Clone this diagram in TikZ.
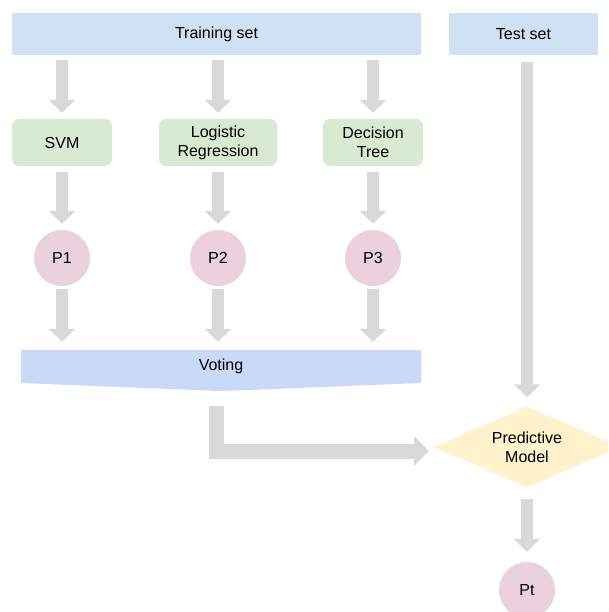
\documentclass[tikz,border=0pt]{standalone}
\usepackage{fontspec}
\setmainfont{Liberation Sans}
\usetikzlibrary{arrows.meta,shapes.geometric}
\definecolor{trainblue}{HTML}{CFE2F3}
\definecolor{modelgreen}{HTML}{D9EAD3}
\definecolor{predpink}{HTML}{EAD1DC}
\definecolor{voteblue}{HTML}{C9DAF8}
\definecolor{diamondyellow}{HTML}{FFF2CC}
\definecolor{arrowgray}{HTML}{D9D9D9}
\begin{document}
\begin{tikzpicture}[x=1pt,y=-1pt,
  font=\fontsize{16}{19}\selectfont,
  setbox/.style={fill=trainblue, minimum height=42pt, inner sep=0pt},
  modelbox/.style={fill=modelgreen, rounded corners=7pt, minimum width=100pt, minimum height=47pt, inner sep=0pt, align=center},
  predcirc/.style={circle, fill=predpink, minimum size=56pt, inner sep=0pt},
  blockarrow/.style={draw=arrowgray, line width=12pt, -{Triangle[width=26pt,length=13pt]}},
  bigarrow/.style={draw=arrowgray, line width=15pt, -{Triangle[width=29pt,length=15pt]}},
  ]
\clip (0,0) rectangle (608,612);
\fill[white] (0,0) rectangle (608,612);
% top boxes
\node[setbox, minimum width=409pt] (train) at (216.5,34) {Training set};
\node[setbox, minimum width=149pt] (test) at (523.5,34) {Test set};
% models
\node[modelbox] (svm) at (62,142.5) {SVM};
\node[modelbox, minimum width=118pt] (lr) at (218,142.5) {Logistic\\Regression};
\node[modelbox] (dt) at (373,142.5) {Decision\\Tree};
% predictions
\node[predcirc] (p1) at (62,258) {P1};
\node[predcirc] (p2) at (218,258) {P2};
\node[predcirc] (p3) at (373,258) {P3};
% voting
\fill[voteblue] (21,350) -- (421,350) -- (421,383) -- (221,391) -- (21,383) -- cycle;
\node[inner sep=0pt, minimum width=400pt, minimum height=33pt] (vote) at (221,366.5) {Voting};
% predictive model
\node[diamond, fill=diamondyellow, aspect=2.3, inner sep=0pt, minimum width=186pt, minimum height=81pt, align=center] (model) at (527,447) {Predictive\\Model};
\node[predcirc] (pt) at (527,590) {Pt};
% arrows
\foreach \m in {svm,lr,dt}
  \draw[blockarrow, shorten <=5pt, shorten >=6pt] (\m |- train.south) -- (\m.north);
\draw[blockarrow, shorten <=6pt, shorten >=6pt] (svm.south) -- (p1.north);
\draw[blockarrow, shorten <=6pt, shorten >=6pt] (lr.south) -- (p2.north);
\draw[blockarrow, shorten <=6pt, shorten >=6pt] (dt.south) -- (p3.north);
\draw[blockarrow, shorten <=3pt, shorten >=8pt] (p1.south) -- (p1 |- vote.north);
\draw[blockarrow, shorten <=3pt, shorten >=8pt] (p2.south) -- (p2 |- vote.north);
\draw[blockarrow, shorten <=3pt, shorten >=8pt] (p3.south) -- (p3 |- vote.north);
\draw[blockarrow, shorten <=7pt, shorten >=9pt] (model |- test.south) -- (model.north);
\draw[bigarrow, shorten <=23pt, shorten >=5pt] ([xshift=-4.5pt]vote.south) |- ([yshift=-4pt]model.west);
\draw[blockarrow, shorten <=11pt, shorten >=10pt] (model.south) -- (pt.north);
\end{tikzpicture}
\end{document}
